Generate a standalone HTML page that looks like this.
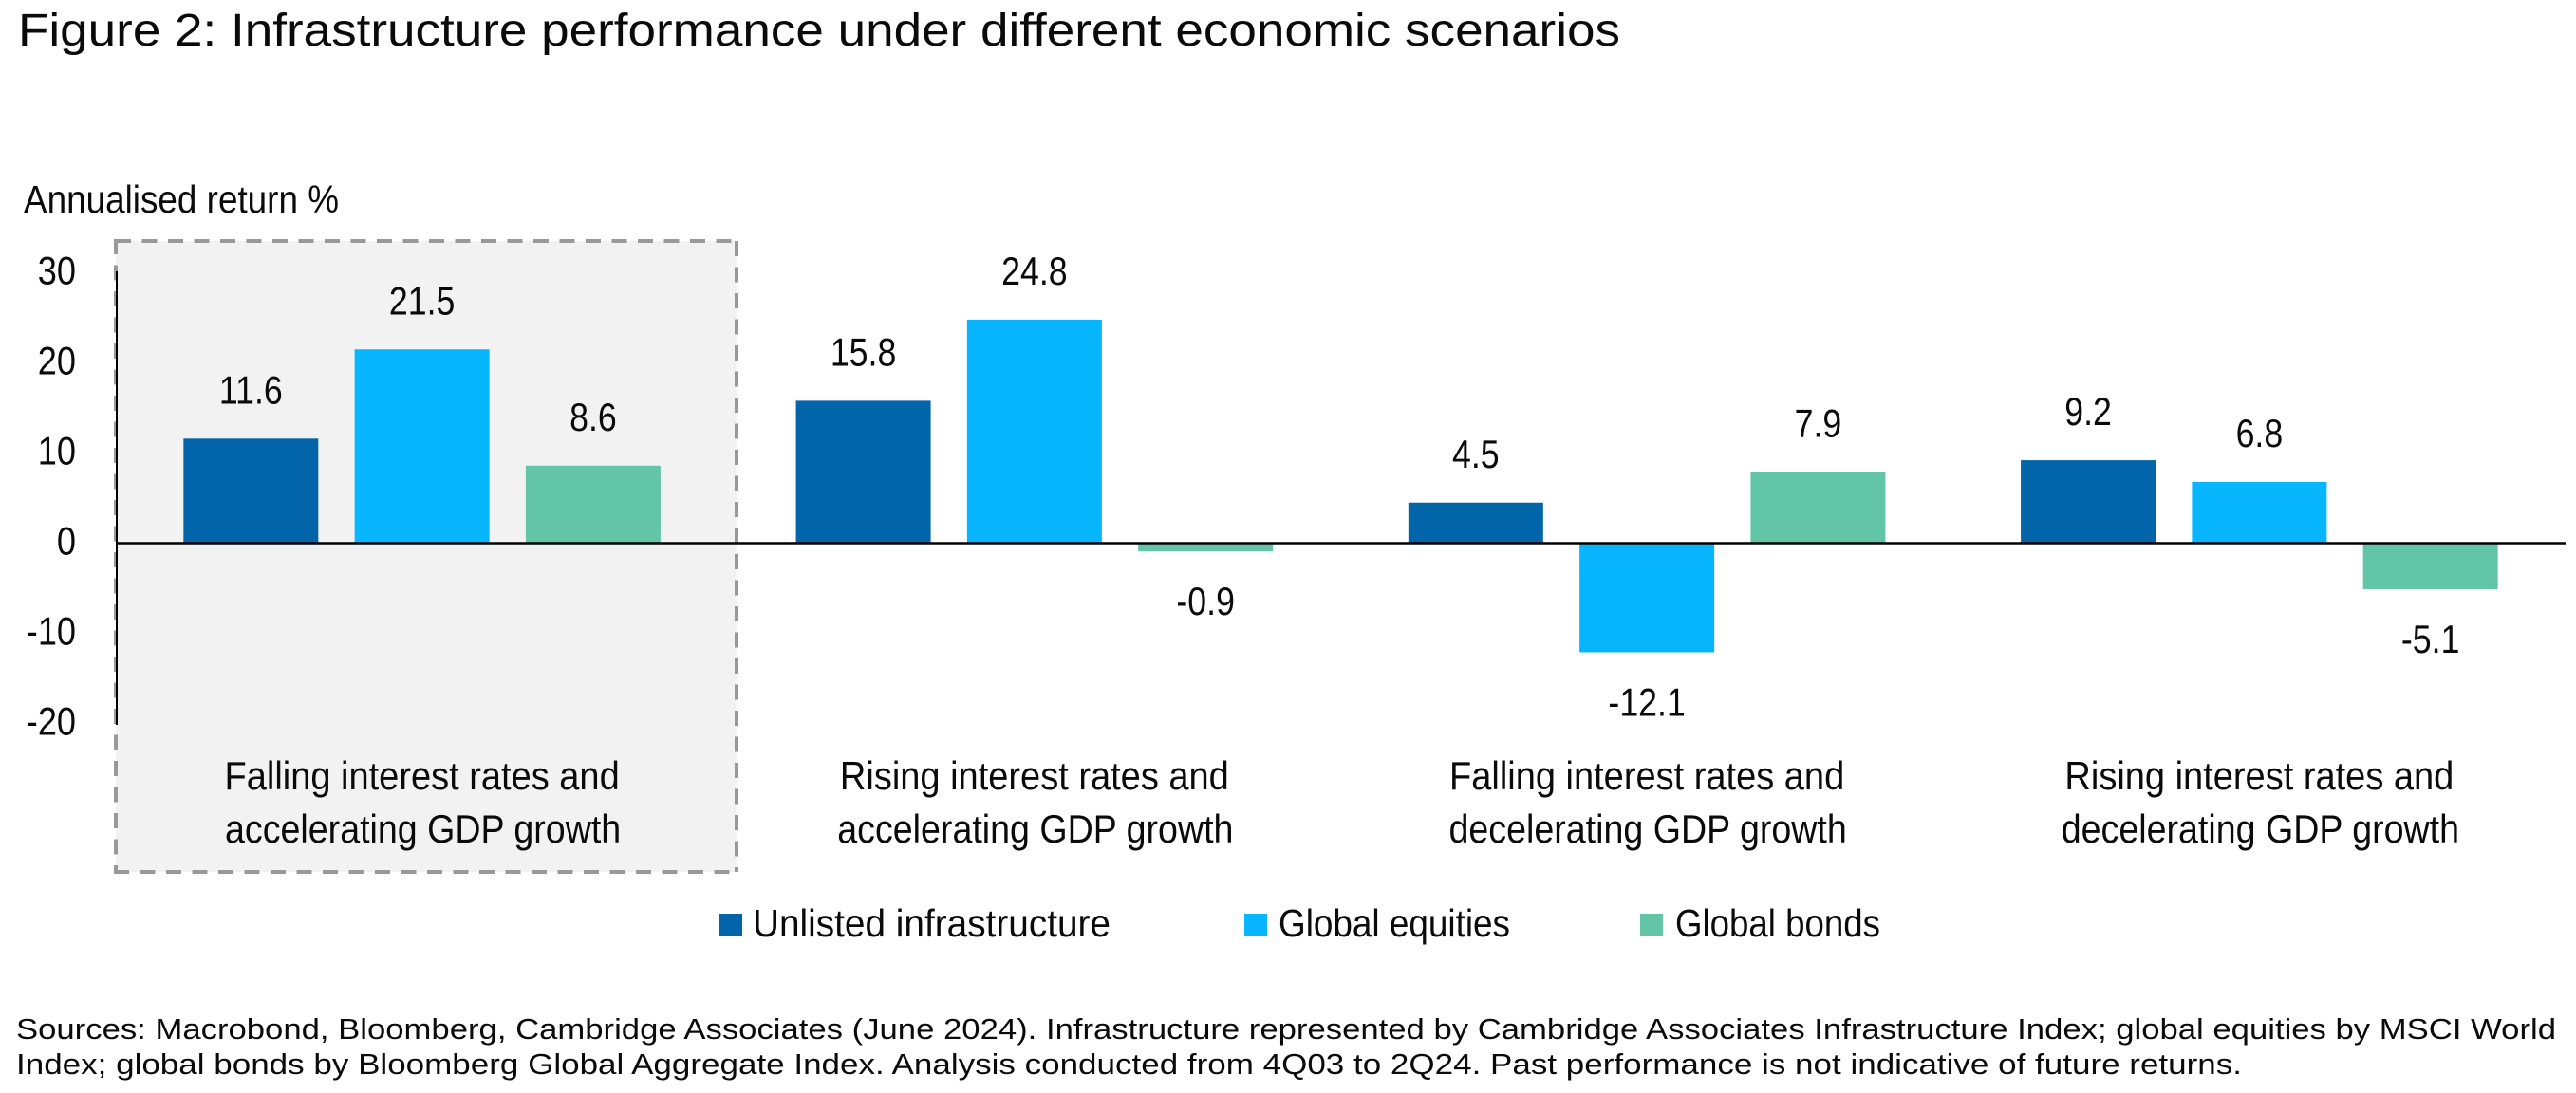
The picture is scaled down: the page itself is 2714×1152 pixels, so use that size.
<!DOCTYPE html>
<html lang="en">
<head>
<meta charset="utf-8">
<title>Figure 2: Infrastructure performance under different economic scenarios</title>
<style>
  html, body { margin: 0; padding: 0; background: #ffffff; }
  svg { display: block; }
  text { font-family: "Liberation Sans", sans-serif; fill: #0a0a0a; }
</style>
</head>
<body>
<svg id="chart" xmlns="http://www.w3.org/2000/svg" width="2714" height="1152" viewBox="0 0 2714 1152">
  <text x="19" y="48" font-size="48" textLength="1688" lengthAdjust="spacingAndGlyphs">Figure 2: Infrastructure performance under different economic scenarios</text>
  <text x="25" y="224" font-size="41" textLength="332" lengthAdjust="spacingAndGlyphs">Annualised return %</text>

  <rect x="122" y="254" width="654" height="665" fill="#f2f2f2"></rect>
  <g id="highlight-border" stroke="#999999" stroke-width="4" stroke-dasharray="16 11.5" fill="none">
    <line x1="122" y1="254" x2="776" y2="254"></line>
    <line x1="122" y1="252" x2="122" y2="919"></line>
    <line x1="776" y1="254" x2="776" y2="919"></line>
    <line x1="120" y1="919" x2="776" y2="919"></line>
  </g>

  <g id="bars"></g>
  <g id="axes"></g>
  <g id="value-labels"></g>
  <g id="category-labels"></g>

  <g>
    <g>
      <rect x="758" y="963" width="24" height="24" fill="#0365a9"></rect>
      <text x="793" y="987" font-size="41" textLength="377" lengthAdjust="spacingAndGlyphs">Unlisted infrastructure</text>
    </g>
    <g>
      <rect x="1311" y="963" width="24" height="24" fill="#08b6ff"></rect>
      <text x="1347" y="987" font-size="41" textLength="244" lengthAdjust="spacingAndGlyphs">Global equities</text>
    </g>
    <g>
      <rect x="1728" y="963" width="24" height="24" fill="#62c6a6"></rect>
      <text x="1765" y="987" font-size="41" textLength="216" lengthAdjust="spacingAndGlyphs">Global bonds</text>
    </g>
  </g>

  <g>
    <text x="17" y="1095" font-size="31" textLength="2676" lengthAdjust="spacingAndGlyphs">Sources: Macrobond, Bloomberg, Cambridge Associates (June 2024). Infrastructure represented by Cambridge Associates Infrastructure Index; global equities by MSCI World</text>
    <text x="17" y="1132" font-size="31" textLength="2345" lengthAdjust="spacingAndGlyphs">Index; global bonds by Bloomberg Global Aggregate Index. Analysis conducted from 4Q03 to 2Q24. Past performance is not indicative of future returns.</text>
  </g>
</svg>

<script>
const categoriesLine1 = ["Falling interest rates and", "Rising interest rates and", "Falling interest rates and", "Rising interest rates and"];
const categoriesLine2 = ["accelerating GDP growth", "accelerating GDP growth", "decelerating GDP growth", "decelerating GDP growth"];
const seriesNames = ["unlisted-infrastructure", "global-equities", "global-bonds"];
const unlistedInfrastructure = [11.6, 15.8, 4.5, 9.2];
const globalEquities = [21.5, 24.8, -12.1, 6.8];
const globalBonds = [8.6, -0.9, 7.9, -5.1];
const yTicks = [30, 20, 10, 0, -10, -20];

const SVG_NS = "http://www.w3.org/2000/svg";
const allSeries = [unlistedInfrastructure, globalEquities, globalBonds];
const seriesColors = ["#0365a9", "#08b6ff", "#62c6a6"];
const PLOT_LEFT = 122, PLOT_RIGHT = 2703, ZERO_Y = 572.5, UNIT_PX = 9.5;
const BAND = (PLOT_RIGHT - PLOT_LEFT) / categoriesLine1.length;
const BAR_STEP = 180.3, BAR_W = 142;

function yScale(v) { return ZERO_Y - v * UNIT_PX; }
function groupCenter(i) { return PLOT_LEFT + BAND * (i + 0.5); }
function barCenter(i, s) { return groupCenter(i) + (s - 1) * BAR_STEP; }

function makeEl(tag, parent, attrs) {
  const el = document.createElementNS(SVG_NS, tag);
  Object.keys(attrs).forEach(function (k) { el.setAttribute(k, attrs[k]); });
  parent.appendChild(el);
  return el;
}
function squeeze(el, ratio) {
  el.setAttribute("textLength", (el.getComputedTextLength() * ratio).toFixed(1));
  el.setAttribute("lengthAdjust", "spacingAndGlyphs");
}

const barsG = document.getElementById("bars");
const axesG = document.getElementById("axes");
const valuesG = document.getElementById("value-labels");
const catsG = document.getElementById("category-labels");

allSeries.forEach(function (values, s) {
  values.forEach(function (v, i) {
    const top = Math.min(yScale(v), yScale(0));
    const h = Math.abs(yScale(v) - yScale(0));
    const bar = makeEl("rect", barsG, {
      x: barCenter(i, s) - BAR_W / 2, y: top, width: BAR_W, height: h, fill: seriesColors[s]
    });
    
    

    const labelY = v >= 0 ? yScale(v) - 37 : yScale(v) + 67;
    const label = makeEl("text", valuesG, {
      x: barCenter(i, s), y: labelY, "font-size": 42, "text-anchor": "middle"
    });
    label.textContent = v.toFixed(1);
    
    
    squeeze(label, 0.85);
  });
});

const yAxis = makeEl("line", axesG, {
  x1: PLOT_LEFT + 1, x2: PLOT_LEFT + 1, y1: 286, y2: 764, stroke: "#000000", "stroke-width": 2
});



const xAxis = makeEl("line", axesG, {
  x1: PLOT_LEFT, x2: PLOT_RIGHT, y1: yScale(0), y2: yScale(0), stroke: "#000000", "stroke-width": 2.6
});



yTicks.forEach(function (t) {
  const tick = makeEl("text", axesG, {
    x: 80, y: yScale(t) + 12, "font-size": 42, "text-anchor": "end"
  });
  tick.textContent = String(t);
  
  
  squeeze(tick, 0.86);
});

categoriesLine1.forEach(function (line1, i) {
  const a = makeEl("text", catsG, {
    x: groupCenter(i), y: 832, "font-size": 42, "text-anchor": "middle"
  });
  a.textContent = line1;
  
  
  squeeze(a, 0.905);

  const b = makeEl("text", catsG, {
    x: groupCenter(i) + 1, y: 888, "font-size": 42, "text-anchor": "middle"
  });
  b.textContent = categoriesLine2[i];
  
  
  squeeze(b, 0.895);
});
</script>
</body>
</html>
